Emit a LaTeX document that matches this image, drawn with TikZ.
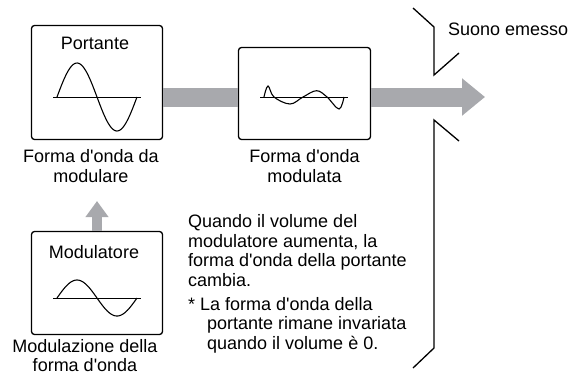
\documentclass[tikz,border=0pt]{standalone}
\usepackage{fontspec}
\setmainfont{Liberation Sans}
\usetikzlibrary{positioning,arrows.meta}

\definecolor{bargray}{RGB}{168,169,173}
\newcommand{\apos}{\textquotesingle}

\begin{document}
\begin{tikzpicture}[
  x=1pt, y=-1pt,
  every node/.style={font=\fontsize{18}{19.5}\selectfont, inner sep=0pt},
  blockbox/.style={rectangle, draw, line width=1.3pt, rounded corners=3pt,
    fill=white, minimum width=131pt},
  caption/.style={align=center, anchor=base},
  wavecurve/.style={line width=1.1pt},
  zeroline/.style={line width=0.8pt},
  signalbar/.style={line width=19pt, draw=bargray},
  bracketline/.style={line width=1.3pt}
]
  \useasboundingbox (0,0) rectangle (573,376);

  % blocks
  \node[blockbox, minimum height=114pt] (carrier) at (97,82.5) {};
  \node[blockbox, minimum width=132pt, minimum height=92pt] (modulated) at (304.5,93.5) {};
  \node[blockbox, minimum height=103pt] (modulator) at (97,283) {};

  \node[anchor=base] (carriertitle) at (95,49) {Portante};
  \node[anchor=base] (modulatortitle) at (94,258) {Modulatore};

  % waves
  \draw[zeroline] (53,97) -- (141,97);
  \draw[wavecurve] plot[domain=0:80, samples=60] ({57+\x},{97-34*sin(4.5*\x)});
  \draw[zeroline] (53,298) -- (141,298);
  \draw[wavecurve] plot[domain=0:80, samples=60] ({57+\x},{298-18*sin(4.5*\x)});
  \draw[zeroline] (260,97) -- (348,97);
  \draw[wavecurve] plot[smooth, tension=0.6] coordinates {(264,97) (268,86)
    (274,97) (290,104) (303,97) (316.5,90.7) (327,97) (339,109) (344,97)};

  % captions (base = last line)
  \node[caption] (carrierlbl) at (91,182) {Forma d\apos onda da\\modulare};
  \node[caption] (modulatedlbl) at (304.5,182) {Forma d\apos onda\\modulata};
  \node[caption] (modulatorlbl) at (85,371.5) {Modulazione della\\forma d\apos onda};

  \node[align=left, anchor=base west] (note) at (188,286)
    {Quando il volume del\\modulatore aumenta, la\\forma d\apos onda della portante\\cambia.};
  \node[align=left, anchor=base west] (footnote) at (188,349)
    {* La forma d\apos onda della\\\hspace*{19pt}portante rimane invariata\\\hspace*{19pt}quando il volume è 0.};

  % signal flow
  \coordinate (outtip) at (485,97);
  \coordinate (uptip) at (97,201);
  \draw[signalbar] (carrier.east |- outtip) -- (modulated.west |- outtip);
  \draw[signalbar, -{Triangle[length=23pt, width=36pt]}] (modulated.east |- outtip) -- (outtip);
  \draw[line width=10pt, draw=bargray, -{Triangle[length=16pt, width=22pt]}]
    (modulator.north) -- (uptip);

  % output bracket
  \draw[bracketline] (413,8) -- (434,27) -- (434,75) -- (459,53);
  \draw[bracketline] (459,141) -- (434,120) -- (434,348) -- (413,368);
  \node[anchor=base west] (output) at (448,35) {Suono emesso};
\end{tikzpicture}
\end{document}
